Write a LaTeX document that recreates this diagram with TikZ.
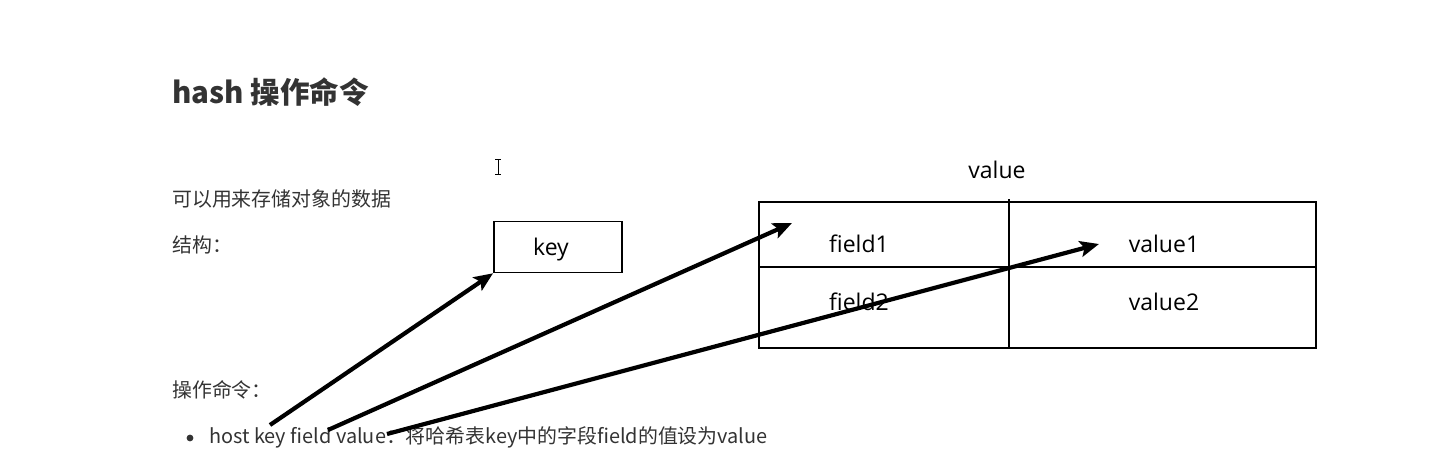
\documentclass[tikz,border=0pt]{standalone}
\usepackage{fontspec}
\setmainfont{Open Sans}
\newfontfamily\cjk{Noto Sans CJK SC}
\usetikzlibrary{arrows.meta}
\definecolor{ink}{HTML}{333333}
\begin{document}
\begin{tikzpicture}[x=1pt,y=-1pt,every node/.style={inner sep=0pt},
  txt/.style={font=\cjk\fontsize{19.9}{24}\selectfont,text=ink,anchor=west},
  lbl/.style={font=\fontsize{23}{27}\selectfont,anchor=base},
  ptr/.style={-{Stealth[length=19pt,width=16pt,inset=4pt]},line width=4.2pt}]
  \useasboundingbox (0,0) rectangle (1438,464);
  % left column of text
  \node[font=\cjk\bfseries\fontsize{29.5}{35}\selectfont,text=ink,anchor=base west] (title) at (172,103) {hash 操作命令};
  \node[txt] (desc) at (172,199) {可以用来存储对象的数据};
  \node[txt] (struct) at (172,245) {结构：};
  \node[txt] (ops) at (172,390) {操作命令：};
  \fill[ink] (190,438) circle (3.4) coordinate (dot);
  \node[txt] (cmd) at (209,437) {host key field value：将哈希表key中的字段field的值设为value};
  % text cursor
  \draw[line width=1pt] (495,159) -- (501,159) (498,159) -- (498,174) (495,174) -- (501,174);
  % key box
  \node[draw,line width=1.8pt,minimum width=128pt,minimum height=51pt,anchor=north west] (key) at (493,220.5) {};
  \node[lbl] (keytxt) at (551,255) {key};
  % value table
  \node[lbl] (valtxt) at (997,178) {value};
  \draw[line width=1.8pt] (759,202) rectangle (1316,348);
  \draw[line width=1.8pt] (759,267) -- (1316,267);
  \draw[line width=1.8pt] (1009,199) -- (1009,348);
  \node[lbl] (f1) at (859,252) {field1};
  \node[lbl] (v1) at (1164,252) {value1};
  \node[lbl] (f2) at (859,310) {field2};
  \node[lbl] (v2) at (1164,310) {value2};
  % pointers from the command words
  \coordinate (pkey) at (270,425);
  \coordinate (pfield) at (328,430);
  \coordinate (pvalue) at (387,434);
  \coordinate (tf1) at (792,223);
  \coordinate (tv1) at (1099,244);
  \draw[ptr] (pkey) -- (key.south west);
  \draw[ptr] (pfield) -- (tf1);
  \draw[ptr] (pvalue) -- (tv1);
\end{tikzpicture}
\end{document}
